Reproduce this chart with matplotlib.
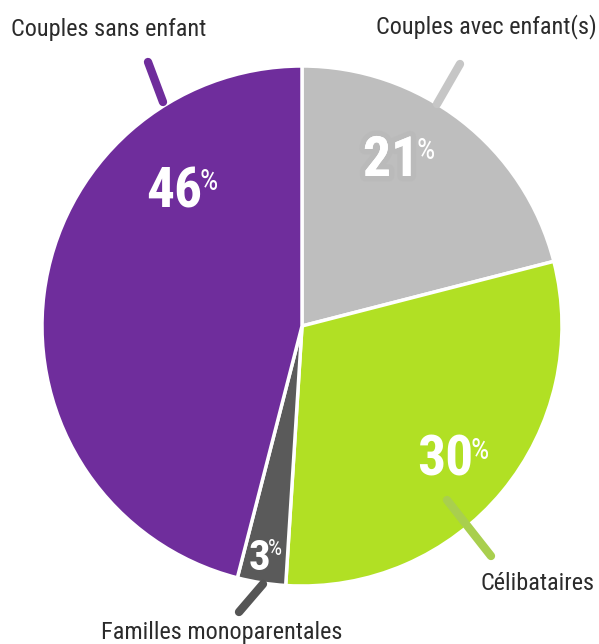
import matplotlib.pyplot as plt
import matplotlib.patheffects as pe

# données
categories = ["Couples avec enfant(s)", "Célibataires", "Familles monoparentales", "Couples sans enfant"]
values = [21, 30, 3, 46]
colors = ["#bebebe", "#b1e024", "#5a5a5a", "#6f2d9c"]
line_colors = ["#c6c6c6", "#a9cf4e", "#555555", "#6f2d9c"]

W, H = 599, 644
FONT = ["Roboto Condensed", "Noto Sans", "DejaVu Sans"]


def px(x, y):
    # pixel (origine en haut) -> coordonnées de l'axe
    return x, H - y


fig = plt.figure(figsize=(W / 100, H / 100), dpi=100)
ax = fig.add_axes([0, 0, 1, 1])

ax.pie(values, colors=colors, startangle=90, counterclock=False,
       center=px(302, 326), radius=260,
       wedgeprops=dict(edgecolor="white", linewidth=2.5))
ax.set_xlim(0, W)
ax.set_ylim(0, H)
ax.set_aspect("equal")
ax.axis("off")

# traits de rappel
leaders = [((460, 64), (437, 104)), ((447, 500), (491, 556)),
           ((263, 584), (239, 612)), ((148, 62), (163, 102))]
for (p0, p1), c in zip(leaders, line_colors):
    x0, y0 = px(*p0)
    x1, y1 = px(*p1)
    ax.plot([x0, x1], [y0, y1], color=c, lw=6, solid_capstyle="round", zorder=3)

# libellés des catégories
label_pos = [(597, 27, "right"), (595, 583, "right"), (222, 632, "center"), (11, 29, "left")]
for name, (x, y, ha) in zip(categories, label_pos):
    ax.text(*px(x, y), name, ha=ha, va="center", fontsize=17.5,
            color="#2b2b2b", family=FONT, fontstretch="condensed")

# pourcentages
pct_pos = [(391, 161), (445, 461), (260, 558), (174, 192)]
pct_size = [40, 40, 31, 40]
fig.canvas.draw()
renderer = fig.canvas.get_renderer()
for v, (x, y), fs in zip(values, pct_pos, pct_size):
    t = ax.text(*px(x, y), str(v), ha="center", va="center", fontsize=fs,
                color="white", fontweight="bold", family=FONT,
                fontstretch="condensed", zorder=4)
    if v == 21:
        t.set_path_effects([pe.withStroke(linewidth=8, foreground="#b6b6b6", alpha=0.4), pe.Normal()])
    bb = t.get_window_extent(renderer)
    ax.text(bb.x1 - 3, bb.y1 - fs * 0.04, "%", ha="left", va="top",
            fontsize=fs * 0.52, color="white", family=FONT,
            fontstretch="condensed", zorder=4)

fig.savefig("out.png", dpi=100)
